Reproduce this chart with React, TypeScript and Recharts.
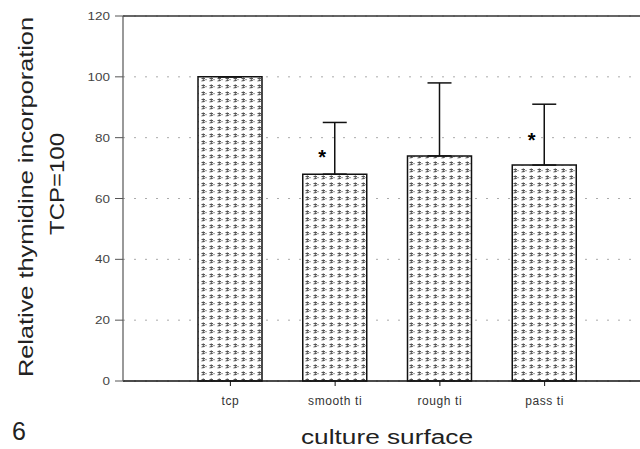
import React from "react";
import {
  ComposedChart,
  Bar,
  Scatter,
  XAxis,
  YAxis,
  CartesianGrid,
  ErrorBar,
  ReferenceLine,
  Customized,
} from "recharts";

const categories = ["tcp", "smooth ti", "rough ti", "pass ti"];
const values = [100, 68, 74, 71];
const errorsUp = [0, 17, 24, 20];
const stars = [null, 75, null, 80.5];
const yTicks = [0, 20, 40, 60, 80, 100, 120];

const data = categories.map((c, i) => ({
  name: c,
  value: values[i],
  err: [0, errorsUp[i]],
  star: stars[i],
}));

const FONT = "'Liberation Sans', Arial, Helvetica, sans-serif";

const YTick = (props: any) => {
  const { x, y, payload } = props;
  const s = String(payload.value);
  return (
    <text
      x={x - 3}
      y={y + 4}
      textAnchor="end"
      fontFamily={FONT}
      fontSize={11}
      fill="#444"
      textLength={s.length * 7.5}
      lengthAdjust="spacingAndGlyphs"
    >
      {s}
    </text>
  );
};

const XTick = (props: any) => {
  const { x, y, payload } = props;
  return (
    <text
      x={x}
      y={y + 17}
      textAnchor="middle"
      fontFamily={FONT}
      fontSize={12}
      fill="#333"
      letterSpacing={0.6}
    >
      {payload.value}
    </text>
  );
};

const StarShape = (props: any) => {
  const { cx, cy, payload } = props;
  if (payload.star == null) return null;
  return (
    <text
      x={cx - 13}
      y={cy + 11}
      textAnchor="middle"
      fontFamily={FONT}
      fontSize={20}
      fontWeight="bold"
      fill="#000"
    >
      *
    </text>
  );
};

const Labels = () => (
  <g fontFamily={FONT} fill="#222">
    <text
      transform="translate(33,197) rotate(-90)"
      textAnchor="middle"
      fontSize={21}
      textLength={360}
      lengthAdjust="spacingAndGlyphs"
    >
      Relative thymidine incorporation
    </text>
    <text
      transform="translate(64,184) rotate(-90)"
      textAnchor="middle"
      fontSize={21}
      textLength={102}
      lengthAdjust="spacingAndGlyphs"
    >
      TCP=100
    </text>
    <text x={12} y={440} fontSize={25}>
      6
    </text>
    <text
      x={387}
      y={444}
      textAnchor="middle"
      fontSize={20}
      textLength={172}
      lengthAdjust="spacingAndGlyphs"
    >
      culture surface
    </text>
  </g>
);

export default function App() {
  return (
    <div style={{ position: "absolute", left: 0, top: 0, background: "#fff" }}>
      <ComposedChart
        width={640}
        height={449}
        data={data}
        margin={{ top: 16, right: 0, bottom: 0, left: 0 }}
      >
        <defs>
          <pattern id="dots" width="8" height="7" patternUnits="userSpaceOnUse">
            <rect width="8" height="7" fill="#fff" />
            <path
              d="M1.5 1.5 L5 1.5 M3.3 0.4 L3.3 4.2 M1.5 4 L5 3.2"
              stroke="#555"
              strokeWidth="1"
            />
            <rect x="5.4" y="2" width="1.2" height="1.2" fill="#777" />
          </pattern>
        </defs>
        <CartesianGrid
          horizontal={true}
          vertical={false}
          stroke="#aaa"
          strokeDasharray="2 9"
        />
        <XAxis
          dataKey="name"
          type="category"
          height={68}
          padding={{ left: 55, right: 43 }}
          tick={<XTick />}
          tickSize={5}
          axisLine={{ stroke: "#111", strokeWidth: 1.5 }}
          tickLine={{ stroke: "#111" }}
        />
        <YAxis
          width={123}
          domain={[0, 120]}
          ticks={yTicks}
          interval={0}
          tick={<YTick />}
          tickSize={8}
          axisLine={{ stroke: "#555", strokeWidth: 1.2 }}
          tickLine={{ stroke: "#555" }}
        />
        <ReferenceLine y={120} stroke="#333" strokeWidth={1.5} />
        <Bar
          dataKey="value"
          barSize={64}
          fill="url(#dots)"
          stroke="#111"
          strokeWidth={1.5}
          isAnimationActive={false}
        >
          <ErrorBar
            dataKey="err"
            direction="y"
            width={12}
            stroke="#111"
            strokeWidth={1.5}
          />
        </Bar>
        <Scatter
          dataKey="star"
          shape={<StarShape />}
          isAnimationActive={false}
        />
        <Customized component={Labels} />
      </ComposedChart>
    </div>
  );
}
